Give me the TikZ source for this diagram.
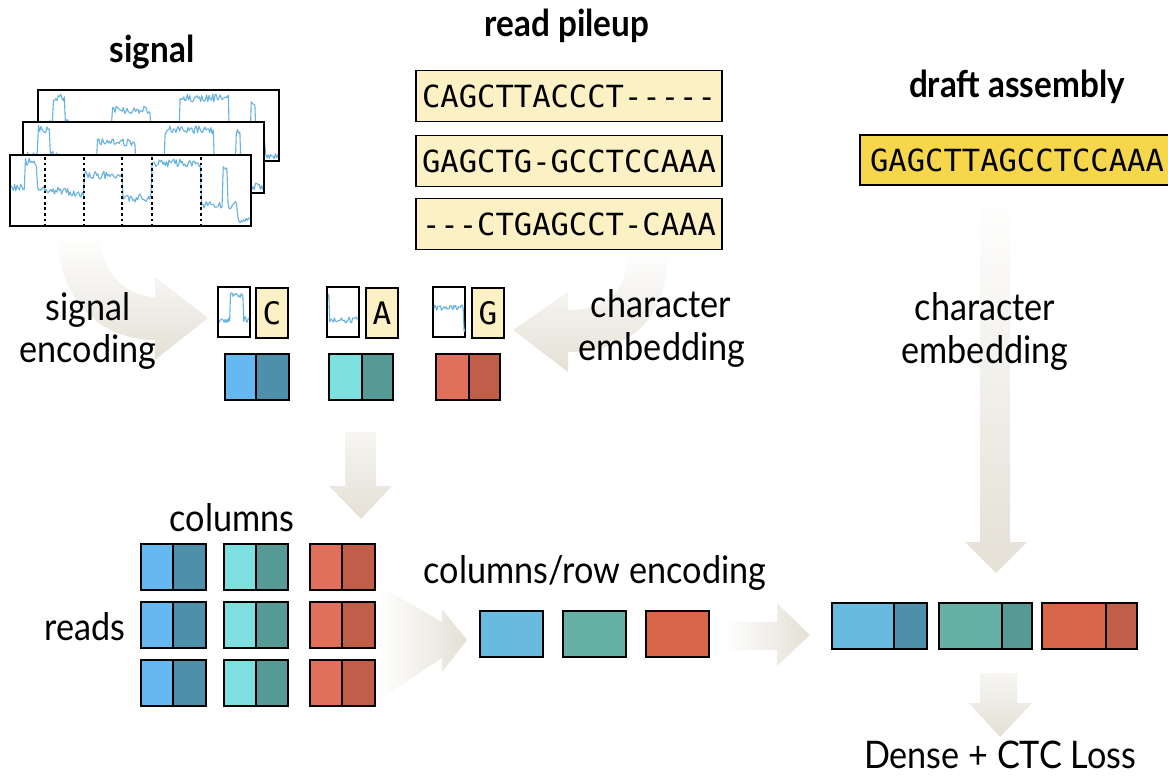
\documentclass[tikz,border=0pt]{standalone}
\usepackage{fontspec}
\setmainfont{Lato}[FakeStretch=0.9]
\newfontfamily\seqfont{DejaVu Sans Mono}

\definecolor{arrowc}{RGB}{228,224,214}
\definecolor{seqfill}{RGB}{251,241,196}
\definecolor{draftfill}{RGB}{246,214,74}
\definecolor{sigblue}{RGB}{104,178,222}
\definecolor{blueL}{RGB}{102,184,240}
\definecolor{blueD}{RGB}{78,143,170}
\definecolor{cyanL}{RGB}{126,224,222}
\definecolor{cyanD}{RGB}{85,154,149}
\definecolor{redL}{RGB}{224,111,92}
\definecolor{redD}{RGB}{192,94,74}
\definecolor{encB}{RGB}{104,186,223}
\definecolor{encG}{RGB}{102,176,166}
\definecolor{encR}{RGB}{216,102,72}

% two-coloured embedding cell: name, x, y (top left), left width, right width, colours
\newcommand\embpair[7]{%
  \node[cell, fill=#6, minimum width=#4pt, anchor=north west] (#1l) at (#2,#3) {};
  \node[cell, fill=#7, minimum width=#5pt, anchor=north west] (#1r) at (#1l.north east) {};
}

\begin{document}
\begin{tikzpicture}[x=1pt,y=-1pt,
  cell/.style={draw=black, line width=2pt, minimum height=46pt, inner sep=0pt, outer sep=0pt},
  panel/.style={draw=black, line width=2.2pt, fill=white, inner sep=0pt, outer sep=0pt, anchor=north west},
  seqbox/.style={draw=black, line width=1.6pt, fill=seqfill, inner sep=0pt, outer sep=0pt,
    minimum width=306pt, minimum height=51pt, font=\seqfont\fontsize{30.5}{30}\selectfont},
  minibox/.style={draw=black, line width=1.8pt, inner sep=0pt, outer sep=0pt, anchor=north west,
    minimum width=32pt, minimum height=50pt, font=\seqfont\fontsize{31}{30}\selectfont},
  sig/.style={draw=sigblue, line width=1.1pt, line join=round},
  lbl/.style={inner sep=0pt, anchor=base, font=\fontsize{38}{43}\selectfont},
  ttl/.style={inner sep=0pt, anchor=base, font=\bfseries\fontsize{37}{43}\selectfont},
  declare function={
    sigf(\t) = (\t<25) ? 188 : ((\t<37) ? 162 : ((\t<84) ? 188+(\t-37)*0.15 :
      ((\t<122) ? 175 : ((\t<152) ? 198 : ((\t<201) ? 163 : ((\t<223) ? 205 :
      ((\t<228) ? 166 : ((\t<237) ? 205 : 220))))))));
    sga(\t) = (\t<230) ? 320 : ((\t<243) ? 295 : 320);
    sgb(\t) = (\t<329) ? 297 : 320;
    sgc(\t) = (\t<464) ? 308 : 332;
  }]
\useasboundingbox (0,0) rectangle (1168,776);
\pgfmathsetseed{7}

% ---------- faded block arrows ----------
\shade[top color=white, bottom color=arrowc]
  (58,235) .. controls (58,300) and (100,340) .. (155,340) -- (155,360) -- (208,318)
  -- (155,277) -- (155,297) .. controls (125,297) and (100,270) .. (100,235) -- cycle;
\shade[top color=white, bottom color=arrowc]
  (668,250) .. controls (668,320) and (630,352) .. (568,352) -- (568,372) -- (513,330)
  -- (568,292) -- (568,310) .. controls (608,310) and (628,290) .. (628,250) -- cycle;
\shade[top color=arrowc!30, bottom color=arrowc]
  (345,432) -- (376,432) -- (376,486) -- (392,486) -- (361,519) -- (329,486) -- (345,486) -- cycle;
\shade[left color=white, right color=arrowc]
  (378,585) -- (442,622) -- (442,609) -- (467,640) -- (442,672) -- (442,658) -- (378,700) -- cycle;
\shade[left color=white, right color=arrowc]
  (723,622) -- (777,622) -- (777,603) -- (810,635) -- (777,666) -- (777,650) -- (723,650) -- cycle;
\shade[top color=white, bottom color=arrowc]
  (980,193) -- (1010,193) -- (1010,542) -- (1027,542) -- (996,573) -- (965,542) -- (980,542) -- cycle;
\shade[top color=arrowc!30, bottom color=arrowc]
  (980,673) -- (1017,673) -- (1017,703) -- (1032,703) -- (1000,737) -- (969,703) -- (980,703) -- cycle;

% ---------- signal panels ----------
\foreach \nm/\dx/\dy in {sigback/28/-65, sigmid/13/-33, sigfront/0/0}{
  \begin{scope}[shift={(\dx,\dy)}]
    \node[panel, minimum width=241pt, minimum height=71pt] (\nm) at (10,155) {};
    \begin{scope}
      \clip (11,156) rectangle (250,225);
      \draw[sig] plot[domain=11:251, samples=200, variable=\x] (\x, {sigf(\x)+4*rand});
    \end{scope}
    \draw[line width=2.2pt] (10,155) rectangle (251,226);
  \end{scope}
}
\foreach \xx in {45,84,122,152,201}
  \draw[line width=2.8pt, dash pattern=on 2.8pt off 2.8pt] (\xx,157) -- (\xx,225);

% ---------- read pileup ----------
\node[seqbox] (r1) at (569,96) {CAGCTTACCCT-{}-{}-{}-{}-};
\node[seqbox] (r2) at (569,161) {GAGCTG-GCCTCCAAA};
\node[seqbox] (r3) at (569,224) {-{}-{}-CTGAGCCT-CAAA};

% ---------- draft assembly ----------
\node[draw=black, line width=1.6pt, fill=draftfill, inner sep=0pt, outer sep=0pt,
  minimum width=314pt, minimum height=50pt, font=\seqfont\fontsize{30.5}{30}\selectfont]
  (draft) at (1017,160) {GAGCTTAGCCTCCAAA};

% ---------- per-position signal + base ----------
\node[minibox, fill=white] (s1) at (218,287) {};
\node[minibox, fill=seqfill] (b1) at (256,288) {C};
\node[minibox, fill=white] (s2) at (327,287) {};
\node[minibox, fill=seqfill] (b2) at (366,288) {A};
\node[minibox, fill=white] (s3) at (433,287) {};
\node[minibox, fill=seqfill] (b3) at (472,288) {G};
\begin{scope}
  \clip (219,288) rectangle (249,336);
  \draw[sig] plot[domain=219:250, samples=36, variable=\x] (\x, {sga(\x)+3*rand});
\end{scope}
\begin{scope}
  \clip (328,288) rectangle (358,336);
  \draw[sig] plot[domain=327:359, samples=36, variable=\x] (\x, {sgb(\x)+3*rand});
\end{scope}
\begin{scope}
  \clip (434,288) rectangle (465,336);
  \draw[sig] plot[domain=433:466, samples=36, variable=\x] (\x, {sgc(\x)+3*rand});
\end{scope}

\embpair{e1}{225}{354}{31}{33}{blueL}{blueD}
\embpair{e2}{329}{354}{33}{31}{cyanL}{cyanD}
\embpair{e3}{436}{354}{33}{31}{redL}{redD}

% ---------- reads x columns grid ----------
\foreach \r/\yy in {1/544, 2/602, 3/660}{
  \embpair{g\r a}{141}{\yy}{32}{33}{blueL}{blueD}
  \embpair{g\r b}{224}{\yy}{32}{32}{cyanL}{cyanD}
  \embpair{g\r c}{310}{\yy}{32}{33}{redL}{redD}
}

% ---------- column/row encoding ----------
\node[cell, fill=encB, minimum width=63pt, anchor=north west] (c1) at (480,611) {};
\node[cell, fill=encG, minimum width=63pt, anchor=north west] (c2) at (563,611) {};
\node[cell, fill=encR, minimum width=63pt, anchor=north west] (c3) at (646,611) {};

% ---------- combined with draft ----------
\embpair{f1}{832}{603}{62}{33}{encB}{blueD}
\embpair{f2}{939}{603}{63}{30}{encG}{cyanD}
\embpair{f3}{1042}{603}{64}{31}{encR}{redD}

% ---------- labels ----------
\node[ttl] (tsig) at (152,63) {signal};
\node[ttl] (tpile) at (567,37) {read pileup};
\node[ttl] (tdraft) at (1017,97) {draft assembly};
\node[lbl] (se1) at (88,320) {signal};
\node[lbl] (se2) at (88,362) {encoding};
\node[lbl] (ce1) at (661,317) {character};
\node[lbl] (ce2) at (662,360) {embedding};
\node[lbl] (de1) at (985,320) {character};
\node[lbl] (de2) at (985,363) {embedding};
\node[lbl] (tcol) at (232,531) {columns};
\node[lbl] (treads) at (85,640) {reads};
\node[lbl] (tcre) at (595,583) {columns/row encoding};
\node[lbl] (tloss) at (1000,768) {Dense + CTC Loss};
\end{tikzpicture}
\end{document}
